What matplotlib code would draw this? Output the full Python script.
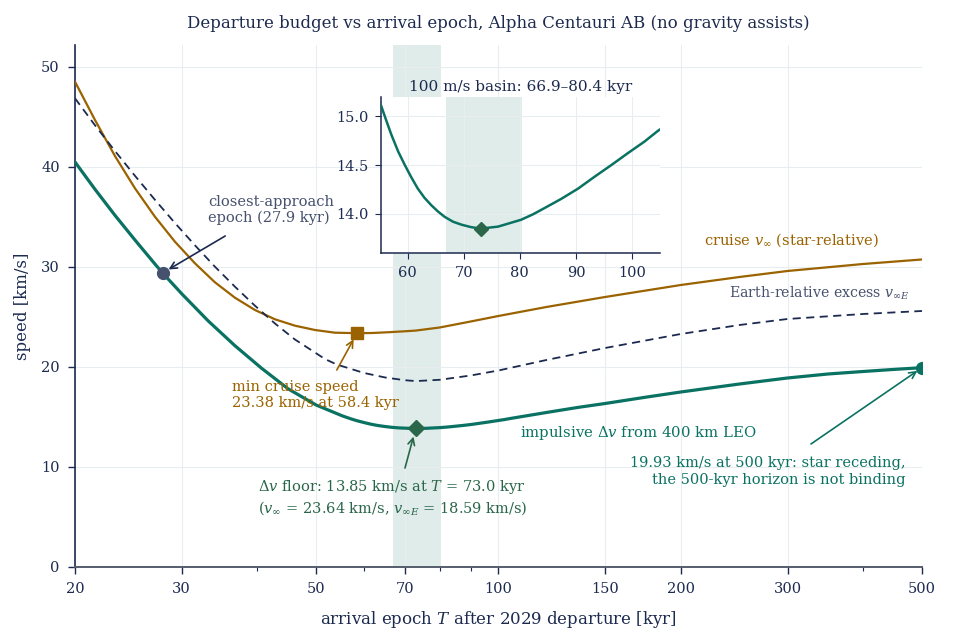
import matplotlib
matplotlib.use("Agg")
import matplotlib.pyplot as plt
from matplotlib.ticker import FixedLocator, FixedFormatter, NullFormatter

plt.rcParams['font.family'] = ['DejaVu Serif']
plt.rcParams['mathtext.fontset'] = 'dejavuserif'

# ---------------- data ----------------
dv_T = [20, 21.58, 23.28, 25.12, 27.1, 27.9, 30.0, 33.19, 36.73, 40.65, 45,
        50, 55.2, 56.1, 57.1, 58.3, 59.5, 60.6, 61.8, 63.0, 64.2, 65.4, 66.6,
        68.1, 69.6, 71.3, 73.0, 76.1, 80.2, 82.3, 84.4, 87.4, 90.4, 93.3,
        96.3, 99.2, 102.2, 104.6, 120, 135, 150, 175, 200, 250, 300, 350,
        400, 450, 500]
dv_v = [40.5, 37.77, 35.17, 32.7, 30.3, 29.4, 27.33, 24.6, 22.13, 19.87, 17.8,
        16.2, 15.12, 14.97, 14.81, 14.64, 14.50, 14.38, 14.26, 14.165, 14.09,
        14.025, 13.97, 13.92, 13.89, 13.865, 13.85, 13.87, 13.94, 13.995,
        14.06, 14.155, 14.26, 14.38, 14.50, 14.62, 14.74, 14.85, 15.45, 15.95,
        16.35, 16.98, 17.5, 18.3, 18.9, 19.3, 19.55, 19.76, 19.93]

cruise_T = [20, 21.58, 23.28, 25.12, 27.1, 29.24, 31.55, 34.04, 36.73, 39.63,
            42.76, 46.14, 49.78, 53.7, 58.4, 62, 66, 70, 73, 80, 90, 100, 120,
            150, 200, 250, 300, 400, 500]
cruise_v = [48.53, 44.7, 41.1, 37.87, 35.03, 32.53, 30.37, 28.47, 26.93, 25.7,
            24.77, 24.13, 23.7, 23.43, 23.38, 23.40, 23.48, 23.57, 23.64, 23.95,
            24.55, 25.1, 26.0, 27.0, 28.2, 29.0, 29.6, 30.3, 30.75]

earth_T = [20, 21.58, 23.28, 25.12, 27.1, 29.24, 31.55, 34.04, 36.73, 39.63,
           42.76, 46.14, 51.7, 54.07, 60, 65, 70, 73, 80, 90, 100, 120, 150,
           200, 250, 300, 400, 500]
earth_v = [46.87, 44.17, 41.6, 39.12, 36.72, 34.4, 32.17, 30.03, 28.03, 26.13,
           24.35, 22.75, 20.8, 20.25, 19.4, 18.95, 18.68, 18.59, 18.72, 19.15,
           19.65, 20.7, 21.9, 23.3, 24.2, 24.8, 25.3, 25.6]

closest_T, closest_v = 27.9, 29.4
mincruise_T, mincruise_v = 58.4, 23.38
floor_T, floor_v = 73.0, 13.85
end_T, end_v = 500, 19.93
basin_lo, basin_hi = 66.9, 80.4

x_major = [20, 30, 50, 70, 100, 150, 200, 300, 500]
x_minor = [40, 60, 80, 90, 400]
y_major = [0, 10, 20, 30, 40, 50]
inset_xticks = [60, 70, 80, 90, 100]
inset_yticks = [14.0, 14.5, 15.0]

# ---------------- colours ----------------
TEAL = '#0a7262'
ORANGE = '#9a6300'
NAVY = '#1c2a4f'
DKGREEN = '#2a6649'
SLATE = '#46516e'
GRID = '#e9edf2'
BAND = '#0a7262'

fig = plt.figure(figsize=(9.6, 6.37), dpi=100)
ax = fig.add_axes([0.0781, 0.1099, 0.8823, 0.8195])

ax.axvspan(basin_lo, basin_hi, color=BAND, alpha=0.13, lw=0, zorder=0)
ax.plot(cruise_T, cruise_v, color=ORANGE, lw=1.6, zorder=3)
ax.plot(earth_T, earth_v, color=NAVY, lw=1.3, ls=(0, (4.5, 3)), zorder=3)
ax.plot(dv_T, dv_v, color=TEAL, lw=2.3, zorder=4)

ax.plot([closest_T], [closest_v], 'o', color=SLATE, ms=8.5, zorder=5)
ax.plot([mincruise_T], [mincruise_v], 's', color=ORANGE, ms=8.5, zorder=5)
ax.plot([floor_T], [floor_v], 'D', color=DKGREEN, ms=8.5, zorder=6)
ax.plot([end_T], [end_v], 'o', color=TEAL, ms=8.5, zorder=6)

ax.set_xscale('log')
ax.set_xlim(20, 500)
ax.set_ylim(0, 52.2)
ax.xaxis.set_major_locator(FixedLocator(x_major))
ax.xaxis.set_major_formatter(FixedFormatter([str(v) for v in x_major]))
ax.xaxis.set_minor_locator(FixedLocator(x_minor))
ax.xaxis.set_minor_formatter(NullFormatter())
ax.set_yticks(y_major)

ax.grid(True, which='major', color=GRID, lw=0.8, zorder=0)
ax.set_axisbelow(True)
for s in ['top', 'right']:
    ax.spines[s].set_visible(False)
ax.spines['left'].set_color(NAVY)
ax.spines['left'].set_linewidth(1.2)
ax.spines['bottom'].set_color('#555c6b')
ax.spines['bottom'].set_linewidth(1.4)
ax.tick_params(axis='both', which='major', direction='out', length=5,
               width=1.0, color=NAVY, labelcolor=NAVY, labelsize=10.5, pad=6)
ax.tick_params(axis='x', which='minor', direction='out', length=3,
               width=0.8, color=NAVY)

ax.set_xlabel('arrival epoch $T$ after 2029 departure [kyr]', fontsize=12,
              color=NAVY, labelpad=9)
ax.set_ylabel('speed [km/s]', fontsize=12, color=NAVY, labelpad=7)
ax.set_title('Departure budget vs arrival epoch, Alpha Centauri AB (no gravity assists)',
             fontsize=12, color=NAVY, pad=12)

# ---------------- annotations ----------------
arr = dict(arrowstyle='->', lw=1.2, mutation_scale=12)

ax.text(33.2, 35.7, 'closest-approach\nepoch (27.9 kyr)', color=SLATE,
        fontsize=10.5, ha='left', va='center', zorder=7)
ax.annotate('', xy=(closest_T, closest_v), xytext=(35.4, 33.1),
            arrowprops=dict(arr, color=NAVY, shrinkA=0, shrinkB=5), zorder=7)

ax.text(36.3, 17.2, 'min cruise speed\n23.38 km/s at 58.4 kyr', color=ORANGE,
        fontsize=10.5, ha='left', va='center', zorder=7)
ax.annotate('', xy=(mincruise_T, mincruise_v), xytext=(54.1, 19.7),
            arrowprops=dict(arr, color=ORANGE, shrinkA=0, shrinkB=5), zorder=7)

ax.text(40.1, 6.95,
        '$\\Delta v$ floor: 13.85 km/s at $T$ = 73.0 kyr\n'
        '($v_\\infty$ = 23.64 km/s, $v_{\\infty E}$ = 18.59 km/s)',
        color=DKGREEN, fontsize=10.5, ha='left', va='center', zorder=7)
ax.annotate('', xy=(floor_T, floor_v), xytext=(70.1, 9.9),
            arrowprops=dict(arr, color=DKGREEN, shrinkA=0, shrinkB=6), zorder=7)

ax.text(108.5, 13.4, 'impulsive $\\Delta v$ from 400 km LEO', color=TEAL,
        fontsize=10.7, ha='left', va='center', zorder=7)

ax.text(470.4, 9.55, '19.93 km/s at 500 kyr: star receding,\n'
        'the 500-kyr horizon is not binding', color=TEAL, fontsize=10.5,
        ha='right', va='center', multialignment='right', zorder=7)
ax.annotate('', xy=(end_T, end_v), xytext=(327.9, 12.3),
            arrowprops=dict(arr, color=TEAL, shrinkA=0, shrinkB=4), zorder=7)

ax.text(218.4, 32.7, 'cruise $v_\\infty$ (star-relative)', color=ORANGE,
        fontsize=10.5, ha='left', va='center', zorder=7)
ax.text(477.6, 27.4, 'Earth-relative excess $v_{\\infty E}$', color=SLATE,
        fontsize=10.2, ha='right', va='center', zorder=7)

# ---------------- inset ----------------
ins = fig.add_axes([0.3966, 0.6028, 0.291, 0.2454])
ins.set_zorder(10)
ins.set_facecolor('white')
ins.axvspan(basin_lo, basin_hi, color=BAND, alpha=0.13, lw=0, zorder=0)
ins.plot(dv_T, dv_v, color=TEAL, lw=1.8, zorder=3)
ins.plot([floor_T], [floor_v], 'D', color=DKGREEN, ms=6.8, zorder=4)
ins.set_xlim(55.2, 105)
ins.set_ylim(13.6, 15.2)
ins.set_xticks(inset_xticks)
ins.set_yticks(inset_yticks)
ins.set_yticklabels(['%.1f' % v for v in inset_yticks])
ins.grid(True, color=GRID, lw=0.8, zorder=0)
ins.set_axisbelow(True)
for s in ['top', 'right']:
    ins.spines[s].set_visible(False)
for s in ['left', 'bottom']:
    ins.spines[s].set_color(NAVY)
    ins.spines[s].set_linewidth(1.1)
ins.tick_params(direction='out', length=4, color=NAVY, labelcolor=NAVY,
                labelsize=10.5, pad=5)
ins.set_title('100 m/s basin: 66.9–80.4 kyr', fontsize=11, color=NAVY, pad=4)

fig.savefig('out.png', dpi=100)
